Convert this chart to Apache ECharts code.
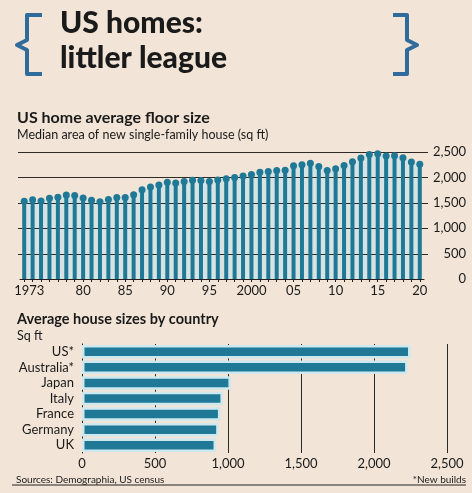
<!DOCTYPE html>
<html>
<head>
<meta charset="utf-8">
<script src="https://cdn.jsdelivr.net/npm/echarts@6/dist/echarts.min.js"></script>
<style>
  html, body { margin: 0; padding: 0; background: #f2e5d7; }
  #chart { width: 472px; height: 493px; }
</style>
</head>
<body>
<div id="chart"></div>
<script>
// US median floor area of new single-family houses, sq ft
const years = ['1973','1974','1975','1976','1977','1978','1979','1980','1981','1982',
  '1983','1984','1985','1986','1987','1988','1989','1990','1991','1992',
  '1993','1994','1995','1996','1997','1998','1999','2000','2001','2002',
  '2003','2004','2005','2006','2007','2008','2009','2010','2011','2012',
  '2013','2014','2015','2016','2017','2018','2019','2020'];
const floorSize = [1530, 1560, 1535, 1590, 1610, 1655, 1645, 1595, 1550, 1520,
  1565, 1605, 1605, 1660, 1755, 1810, 1850, 1905, 1890, 1920,
  1945, 1940, 1920, 1950, 1975, 2000, 2028, 2057, 2103, 2114,
  2137, 2140, 2227, 2248, 2277, 2215, 2135, 2169, 2233, 2306,
  2384, 2453, 2467, 2422, 2426, 2386, 2301, 2261];
const yearLabels = { '1973': '{first|1973}', '1980': '80', '1985': '85', '1990': '90', '1995': '95',
  '2000': '2000', '2005': '05', '2010': '10', '2015': '15', '2020': '20' };
const floorTicks = [500, 1000, 1500, 2000, 2500];

// Average house sizes by country, sq ft
const countries = ['US*', 'Australia*', 'Japan', 'Italy', 'France', 'Germany', 'UK'];
const countrySize = [2250, 2230, 1020, 965, 948, 936, 918];

const teal = '#1f7896';
const pale = '#d6e3e2';
const ink = '#1a1a1a';
const font = 'Lato';

const chart = echarts.init(document.getElementById('chart'), null, { renderer: 'canvas' });

// horizontal gridlines drawn as a series so they sit above the pale area but under the stems
function gridLine(params, api) {
  const cs = params.coordSys;
  const y = Math.round(api.coord([0, api.value(1)])[1]) + 0.5;
  return {
    type: 'line',
    shape: { x1: cs.x - 2, y1: y, x2: cs.x + cs.width + 4, y2: y },
    style: { stroke: '#2e2a26', lineWidth: 1 }
  };
}

const option = {
  backgroundColor: '#f2e5d7',
  animation: false,
  textStyle: { fontFamily: font, color: ink },
  grid: [
    { left: 20, right: 48, top: 152, height: 127 },
    { left: 82, right: 25, top: 344, height: 109 }
  ],
  xAxis: [
    {
      type: 'category', gridIndex: 0, data: years, z: 20,
      axisLine: { lineStyle: { color: '#222', width: 1 } },
      axisTick: { show: true, alignWithLabel: true, interval: 0, length: 3, lineStyle: { color: '#222' } },
      axisLabel: {
        interval: 0, margin: 5, fontSize: 13, color: ink, fontFamily: font,
        formatter: v => yearLabels[v] || '',
        rich: { first: { fontSize: 13, color: ink, fontFamily: font, padding: [0, 0, 0, 10] } }
      }
    },
    {
      type: 'value', gridIndex: 1, min: 0, max: 2500, interval: 500,
      axisLine: { show: false },
      axisTick: { show: false },
      axisLabel: {
        margin: 4, fontSize: 13, color: ink, fontFamily: font,
        formatter: v => v.toLocaleString('en-US')
      },
      splitLine: { show: true, lineStyle: { color: '#2a2a2a', width: 1 } }
    }
  ],
  yAxis: [
    {
      type: 'value', gridIndex: 0, position: 'right', min: 0, max: 2500, interval: 500,
      axisLine: { show: false },
      axisTick: { show: false },
      axisLabel: {
        margin: 42, align: 'right', fontSize: 13, color: ink, fontFamily: font,
        formatter: v => v.toLocaleString('en-US')
      },
      splitLine: { show: false }
    },
    {
      type: 'category', gridIndex: 1, data: countries, inverse: true,
      axisLine: { show: true, lineStyle: { color: '#222', width: 1 } },
      axisTick: { show: false },
      axisLabel: { interval: 0, margin: 8, fontSize: 13, color: ink, fontFamily: font }
    }
  ],
  series: [
    {
      type: 'line', xAxisIndex: 0, yAxisIndex: 0, data: floorSize,
      showSymbol: false, symbol: 'none',
      lineStyle: { width: 1, color: pale },
      itemStyle: { color: pale },
      areaStyle: { color: pale, opacity: 1 }, z: 1, silent: true
    },
    {
      type: 'custom', xAxisIndex: 0, yAxisIndex: 0, silent: true, z: 10, clip: false,
      data: floorTicks.map(v => [0, v]),
      encode: { x: 0, y: 1 },
      renderItem: gridLine
    },
    {
      type: 'bar', xAxisIndex: 0, yAxisIndex: 0, data: floorSize,
      barWidth: 4, itemStyle: { color: teal }, z: 11
    },
    {
      type: 'scatter', xAxisIndex: 0, yAxisIndex: 0, data: floorSize,
      symbolSize: 7, itemStyle: { color: teal, opacity: 1 }, z: 12
    },
    {
      type: 'bar', xAxisIndex: 1, yAxisIndex: 1, data: countrySize,
      barWidth: 13.5,
      itemStyle: { color: teal, borderColor: '#cde8ee', borderWidth: 2.5 }, z: 3
    }
  ],
  graphic: [
    {
      type: 'polyline', z: 10,
      shape: { points: [[42, 15], [27, 15], [27, 40], [17, 45], [27, 50], [27, 74], [42, 74]] },
      style: { stroke: '#2f6c9c', lineWidth: 4, fill: null, lineJoin: 'round' }
    },
    {
      type: 'polyline', z: 10,
      shape: { points: [[393, 15], [407, 15], [407, 40], [417, 45], [407, 50], [407, 74], [393, 74]] },
      style: { stroke: '#2f6c9c', lineWidth: 4, fill: null, lineJoin: 'round' }
    },
    {
      type: 'text', left: 60, top: 8, z: 10,
      style: { text: 'US homes:', font: '900 30px ' + font, fill: ink }
    },
    {
      type: 'text', left: 60, top: 43, z: 10,
      style: { text: 'littler league', font: '900 30px ' + font, fill: ink }
    },
    {
      type: 'text', left: 17, top: 110, z: 10,
      style: { text: 'US home average floor size', font: 'bold 16px ' + font, fill: ink }
    },
    {
      type: 'text', left: 17, top: 128, z: 10,
      style: { text: 'Median area of new single-family house (sq ft)', font: '12.5px ' + font, fill: ink }
    },
    {
      type: 'text', left: 17, top: 312, z: 10,
      style: { text: 'Average house sizes by country', font: 'bold 14.5px ' + font, fill: ink }
    },
    {
      type: 'text', left: 17, top: 329, z: 10,
      style: { text: 'Sq ft', font: '12.5px ' + font, fill: ink }
    },
    {
      type: 'text', left: 16, top: 475, z: 10,
      style: { text: 'Sources: Demographia, US census', font: '10px ' + font, fill: ink }
    },
    {
      type: 'text', right: 6, top: 475, z: 10,
      style: { text: '*New builds', font: '10px ' + font, fill: ink }
    },
    {
      type: 'line', z: 10,
      shape: { x1: 12, y1: 485, x2: 466, y2: 485 },
      style: { stroke: '#222', lineWidth: 1 }
    }
  ]
};

chart.setOption(option);
window.addEventListener('resize', () => chart.resize());
</script>
</body>
</html>
